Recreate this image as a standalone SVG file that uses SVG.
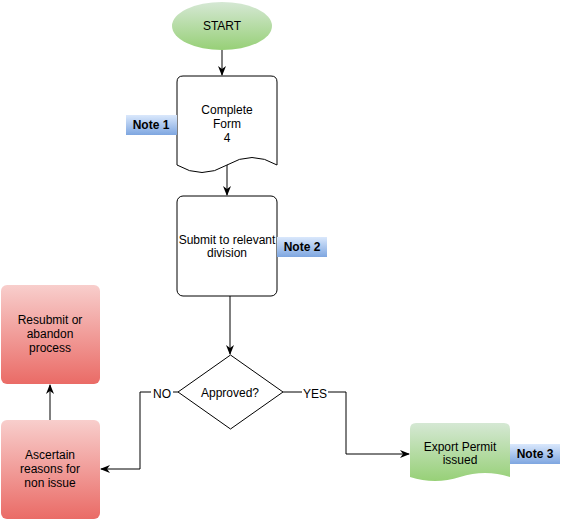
<svg xmlns="http://www.w3.org/2000/svg" width="562" height="521" viewBox="0 0 562 521">
<defs>
<linearGradient id="gGreen" x1="0" y1="0" x2="0" y2="1"><stop offset="0" stop-color="#d5e8d4"/><stop offset="1" stop-color="#97d077"/></linearGradient>
<linearGradient id="gRed" x1="0" y1="0" x2="0" y2="1"><stop offset="0" stop-color="#f8cecc"/><stop offset="1" stop-color="#ea6b66"/></linearGradient>
<linearGradient id="gBlue" x1="0" y1="0" x2="0" y2="1"><stop offset="0" stop-color="#dae8fc"/><stop offset="1" stop-color="#7ea6e0"/></linearGradient>
<marker id="arr" viewBox="0 0 10 8" refX="9" refY="4" markerWidth="10" markerHeight="8" markerUnits="userSpaceOnUse" orient="auto">
<path d="M0,0 L10,4 L0,8 L3,4 Z" fill="#000"/>
</marker>
<style>
text{font-family:"Liberation Sans",Arial,sans-serif;font-size:12px;fill:#000;text-anchor:middle}
.b{font-weight:bold}
.shape{fill:#fff;stroke:#000;stroke-width:1}
.note{fill:url(#gBlue);stroke:none}
.red{fill:url(#gRed);stroke:none}
.green{fill:url(#gGreen);stroke:none}
.edge{fill:none;stroke:#000;stroke-width:1}
.lbl{fill:#fff;stroke:none}
</style>
</defs>
<g id="connectors">
<path class="edge" d="M222,50 L222,75" marker-end="url(#arr)"/>
<path class="edge" d="M227,164 L227,195" marker-end="url(#arr)"/>
<path class="edge" d="M230,296 L230,354" marker-end="url(#arr)"/>
<path class="edge" d="M178,392 L140,392 L140,469 L101,469" marker-end="url(#arr)"/>
<path class="edge" d="M283,392 L346,392 L346,454 L409,454" marker-end="url(#arr)"/>
<path class="edge" d="M50,420 L50,385" marker-end="url(#arr)"/>
<rect class="lbl" x="151" y="386" width="22" height="14"/>
<text x="162" y="398">NO</text>
<rect class="lbl" x="302" y="386" width="26" height="14"/>
<text x="315" y="398">YES</text>
</g>
<g id="start">
<ellipse class="green" cx="222" cy="26" rx="50" ry="24"/>
<text x="222" y="30">START</text>
</g>
<g id="complete-form">
<path class="shape" d="M177,82 Q177,76 183,76 L271,76 Q277,76 277,82 L277,165 Q252,150 227,165 Q202,180 177,165 Z"/>
<text x="227" y="114">Complete</text>
<text x="227" y="128">Form</text>
<text x="227" y="142">4</text>
</g>
<g id="note1">
<rect class="note" x="126" y="115" width="51" height="20"/>
<text class="b" x="151" y="129">Note 1</text>
</g>
<g id="submit">
<rect class="shape" x="177" y="196" width="100" height="100" rx="6"/>
<text x="227" y="244">Submit to relevant</text>
<text x="227" y="257">division</text>
</g>
<g id="note2">
<rect class="note" x="277" y="237" width="50" height="20"/>
<text class="b" x="302" y="251">Note 2</text>
</g>
<g id="approved">
<path class="shape" d="M230.5,355 L283,392 L230.5,429 L178,392 Z"/>
<text x="230" y="397">Approved?</text>
</g>
<g id="resubmit">
<rect class="red" x="1" y="285" width="99" height="99" rx="6"/>
<text x="50" y="324">Resubmit or</text>
<text x="50" y="338">abandon</text>
<text x="50" y="352">process</text>
</g>
<g id="ascertain">
<rect class="red" x="1" y="420" width="99" height="99" rx="6"/>
<text x="50" y="459">Ascertain</text>
<text x="50" y="473">reasons for</text>
<text x="50" y="487">non issue</text>
</g>
<g id="export">
<path class="green" d="M410,429 Q410,423 416,423 L504,423 Q510,423 510,429 L510,477 Q485,469 460,477 Q435,485 410,477 Z"/>
<text x="460" y="451">Export Permit</text>
<text x="460" y="464">issued</text>
</g>
<g id="note3">
<rect class="note" x="510" y="444" width="50" height="20"/>
<text class="b" x="535" y="458">Note 3</text>
</g>
</svg>
